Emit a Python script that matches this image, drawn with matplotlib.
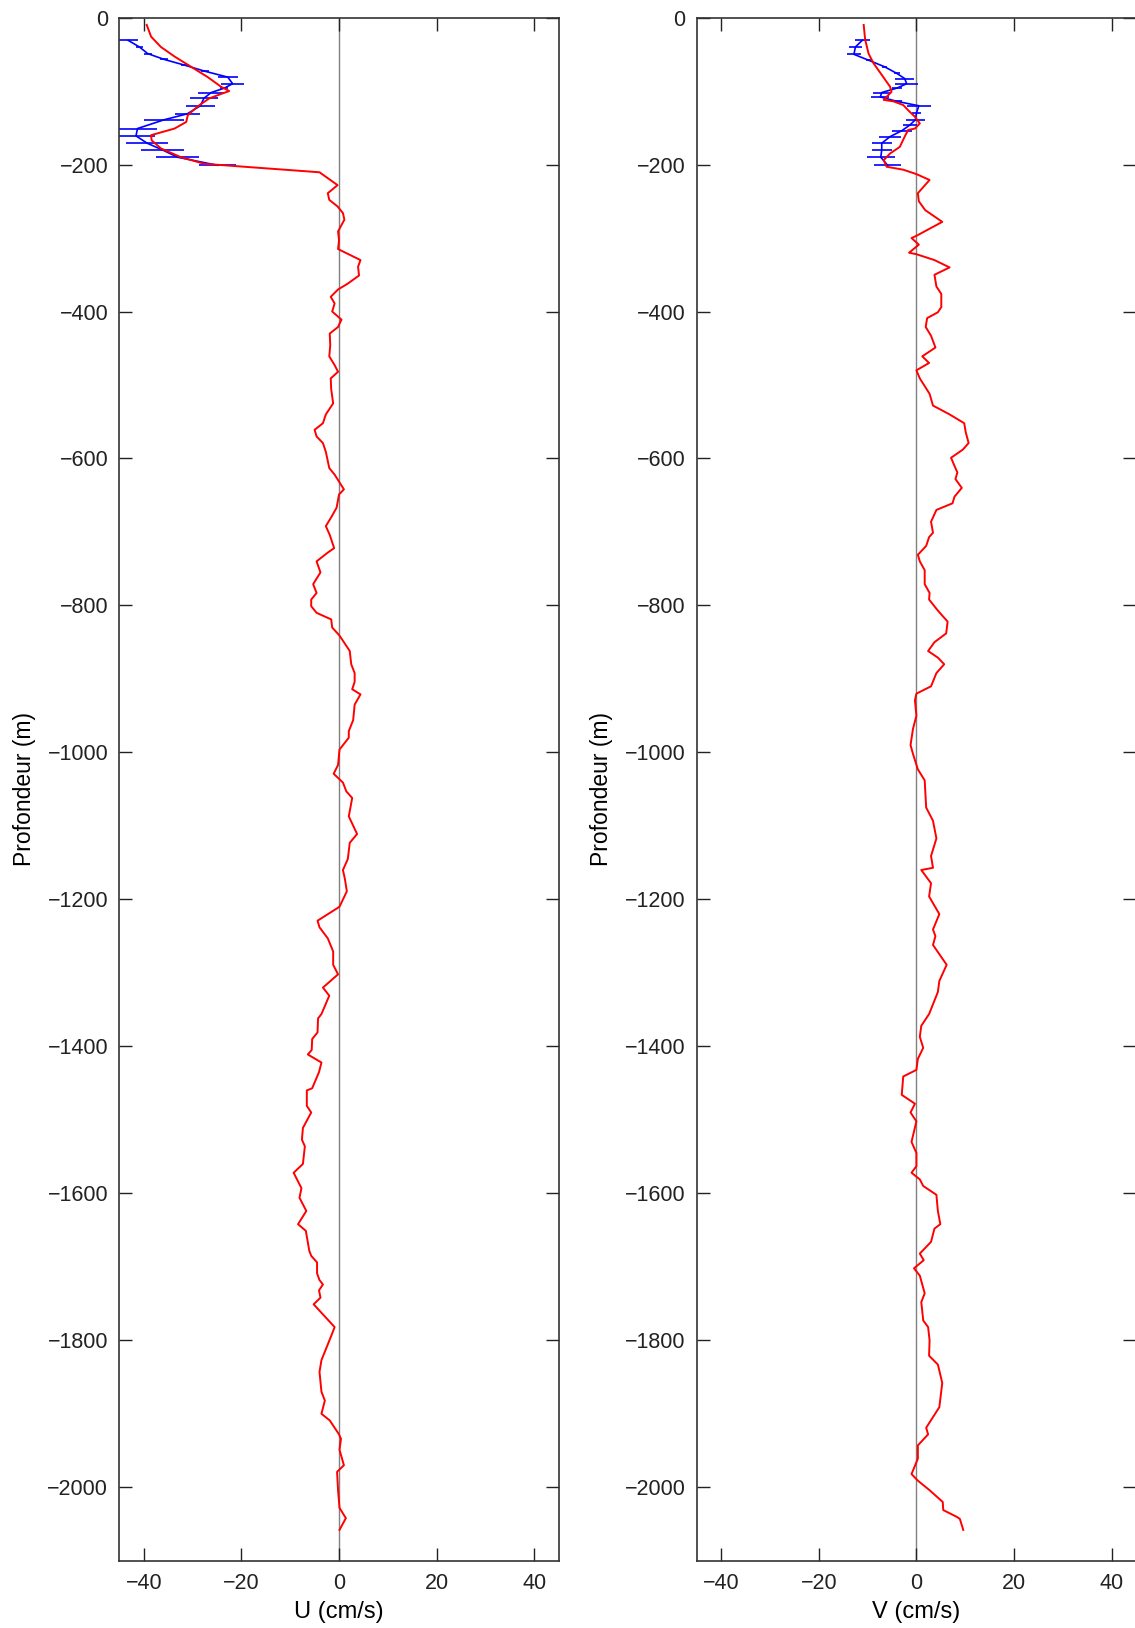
import matplotlib
matplotlib.use("Agg")
import matplotlib.pyplot as plt
import numpy as np

plt.rcParams['font.family'] = ['Liberation Sans', 'DejaVu Sans']

# red profiles (depth in m, velocity in cm/s)
z_u = [-10, -26, -40, -53, -67, -81, -94, -100, -104, -110, -121, -133, -142, -151, -160, -167,
       -178, -190, -199, -210.5, -228, -239, -248, -257, -266, -275,
       -291, -303, -315, -330, -339, -351, -362, -370, -380, -389, -400, -411, -421, -430, -446,
       -461, -473, -482, -491, -506, -525, -540, -552, -561, -570, -579, -591, -613, -622, -642,
       -649, -667, -680, -692, -704, -722, -728, -740, -755, -771, -783, -792, -801, -810, -819,
       -830, -841, -862, -880, -892, -904, -914, -921, -935, -956, -971, -980, -996, -1017, -1029,
       -1041, -1053, -1062, -1087, -1111, -1123, -1145, -1160, -1172, -1189, -1210, -1229, -1238,
       -1253, -1271, -1289, -1302, -1320, -1331, -1356, -1362, -1381, -1390, -1405, -1411, -1422,
       -1435, -1457, -1460, -1481, -1490, -1511, -1527, -1536, -1560, -1572, -1593, -1606, -1624,
       -1642, -1651, -1678, -1685, -1694, -1709, -1718, -1724, -1732, -1742, -1751, -1782, -1794,
       -1827, -1843, -1870, -1882, -1900, -1909, -1928, -1934, -1949, -1970, -1979, -2004, -2028,
       -2042, -2058]
u = [-39.4, -38.5, -36.5, -33.7, -30.3, -26.9, -24.2, -22.5, -24.2, -26.6, -29.0, -31.0, -31.3,
     -33.7, -38.5, -38.4, -36.5, -32.4, -27.6, -4.0, -0.3, -2.3, -2.0, -0.3, 0.8, 1.1,
     -0.2, 0.0, -0.2, 4.4, 3.9, 4.1, 1.8, -0.2, -1.7, -0.9, -1.4, 0.5, -0.2, -1.9, -1.8,
     -2.0, -0.9, -0.2, -1.7, -1.6, -1.2, -2.7, -3.3, -5.0, -4.6, -3.3, -2.7, -2.0, -0.9, 1.0,
     0.0, -0.5, -1.6, -2.7, -1.9, -1.0, -2.3, -4.6, -3.8, -5.3, -4.6, -5.7, -5.7, -4.6, -1.6,
     -1.4, 0.1, 2.2, 2.5, 3.2, 3.2, 2.7, 4.4, 3.2, 2.9, 2.0, 2.0, 0.1, -0.2, -1.1,
     0.8, 1.5, 2.7, 2.0, 3.7, 2.2, 1.8, 0.8, 1.2, 1.6, 0.1, -4.4, -4.0,
     -2.3, -1.2, -1.2, -0.2, -3.3, -2.0, -3.6, -4.3, -4.4, -5.5, -5.6, -6.4, -3.6,
     -4.1, -5.5, -6.6, -6.6, -5.7, -7.4, -7.6, -7.0, -7.4, -9.3, -7.7, -8.1, -6.7,
     -8.4, -6.8, -6.1, -5.7, -4.5, -4.5, -4.0, -3.3, -4.1, -3.8, -5.2, -0.9, -1.6,
     -3.6, -4.0, -3.6, -2.9, -3.6, -1.9, 0.0, 0.4, 0.1, 1.0, -0.4, -0.2, 0.1,
     1.4, 0.1]

z_v = [-10, -30, -49, -62, -78, -94, -101, -108, -112, -114, -119, -126, -135, -144, -151, -153,
       -162, -176, -185, -194, -203, -207, -213, -221, -239, -250, -262, -278, -297, -300, -309,
       -320, -322, -330, -340, -350, -366, -376, -394, -401, -409, -421, -433, -449, -461, -470,
       -480, -491, -512, -528, -540, -552, -564, -579, -588, -599, -610, -619, -628, -640, -652,
       -661, -670, -686, -701, -707, -719, -731, -740, -752, -771, -783, -792, -807, -822, -838,
       -850, -862, -871, -880, -892, -910, -920, -929, -950, -968, -990, -1002, -1023, -1038,
       -1075, -1093, -1117, -1141, -1157, -1160, -1178, -1196, -1220, -1241, -1250, -1262, -1289,
       -1311, -1326, -1356, -1372, -1387, -1402, -1417, -1432, -1441, -1466, -1478, -1490, -1502,
       -1530, -1545, -1563, -1572, -1581, -1590, -1602, -1624, -1642, -1648, -1666, -1682, -1691,
       -1702, -1712, -1736, -1748, -1773, -1782, -1800, -1821, -1833, -1858, -1891, -1919, -1928,
       -1943, -1961, -1982, -1991, -2004, -2020, -2031, -2040, -2043, -2058]
v = [-10.8, -10.5, -9.8, -8.8, -7.1, -5.4, -5.1, -6.1, -6.7, -4.7, -2.7, -1.7, -0.3, 0.7, -0.3, -1.7,
     -2.4, -3.4, -5.4, -6.7, -6.1, -2.7, 0.0, 2.7, 0.3, 0.5, 1.8, 5.3, 0.0, -1.0, 0.5,
     -1.5, 0.0, 3.7, 6.8, 3.7, 4.1, 5.1, 5.1, 4.4, 2.2, 1.9, 3.0, 3.9, 1.2, 2.6,
     0.0, 0.7, 2.7, 3.4, 6.8, 9.8, 10.1, 10.7, 9.5, 7.1, 7.8, 8.4, 8.0, 9.3, 7.8,
     7.4, 4.1, 3.0, 3.4, 2.6, 2.0, 0.3, 0.7, 1.7, 1.7, 2.7, 2.6, 4.4, 6.4, 6.1,
     3.7, 2.4, 4.4, 5.7, 4.1, 3.0, 0.0, -0.3, 0.0, -0.7, -1.2, -0.7, 0.3, 1.7,
     2.0, 3.4, 4.1, 3.0, 3.4, 1.0, 3.0, 2.6, 4.7, 3.4, 3.9, 3.4, 6.2,
     4.7, 4.4, 2.6, 1.0, 0.7, 1.4, 0.3, 0.0, -2.7, -3.0, -0.3, -1.2, 0.0,
     -1.0, 0.0, 0.0, -1.0, 0.7, 1.4, 4.1, 4.4, 4.9, 3.7, 3.0, 0.7, 1.5,
     -0.5, 0.7, 1.7, 1.0, 1.4, 2.4, 2.7, 2.6, 4.4, 5.3, 4.7, 2.0, 2.4,
     0.3, 0.3, -1.0, 0.3, 2.7, 5.4, 5.5, 8.2, 8.9, 9.6]

# blue profiles with error bars (upper 200 m)
zb_u = [-31, -40, -49, -57, -65, -73, -81, -90, -96, -102, -110, -120, -131, -139, -151, -161,
        -171, -180, -190, -201]
ub = [-43.2, -40.9, -39.2, -35.8, -31.5, -27.5, -22.8, -21.8, -23.5, -26.2, -27.7, -28.4, -31.1,
      -35.8, -41.3, -41.6, -39.3, -36.2, -33.1, -24.9]
eb_u = [2.0, 0.8, 0.8, 0.8, 0.8, 0.8, 2.0, 2.4, 0.8, 2.7, 2.9, 2.9, 2.6, 4.1, 4.1, 3.8, 4.3, 4.4,
        4.4, 3.8]

zb_v = [-31, -40, -50, -58, -67, -76, -83, -90, -96, -102, -108, -114, -120, -130, -139, -146,
        -154, -162, -171, -180, -190, -201]
vb = [-11.1, -12.5, -12.8, -9.8, -6.5, -4.0, -2.4, -2.0, -4.0, -7.1, -7.4, -4.0, 0.5, 0.0, -0.2,
      -1.3, -3.0, -5.4, -7.1, -7.1, -7.3, -5.9]
eb_v = [1.5, 1.3, 1.4, 0.5, 0.5, 0.6, 2.0, 2.4, 1.0, 1.8, 1.8, 1.0, 2.5, 1.0, 2.0, 1.5, 2.0, 2.2,
        2.0, 2.0, 2.9, 2.7]

xticks = [-40, -20, 0, 20, 40]
yticks = np.arange(-2000, 1, 200)

fig = plt.figure(figsize=(11.35, 16.28), dpi=100)
ax1 = fig.add_axes([0.1052, 0.0413, 0.387, 0.9479])
ax2 = fig.add_axes([0.6139, 0.0413, 0.387, 0.9479])

panels = [(ax1, u, z_u, ub, zb_u, eb_u, 'U (cm/s)'),
          (ax2, v, z_v, vb, zb_v, eb_v, 'V (cm/s)')]

for ax, vel, z, velb, zb, eb, xlab in panels:
    ax.axvline(0, color='#808080', lw=1.0, zorder=1)
    ax.errorbar(velb, zb, xerr=eb, color='#0000ff', lw=1.2, elinewidth=1.2,
                capsize=0, zorder=2)
    ax.plot(vel, z, color='#ff0000', lw=1.4, zorder=3)
    ax.set_xlim(-45, 45)
    ax.set_ylim(-2100, 0)
    ax.set_xticks(xticks)
    ax.set_yticks(yticks)
    ax.set_xticklabels([str(t).replace('-', '\u2212') for t in xticks])
    ax.set_yticklabels([str(t).replace('-', '\u2212') for t in yticks])
    ax.tick_params(direction='in', length=9.5, width=1.0, top=True, right=True,
                   labelsize=15.5, colors='#222222')
    ax.tick_params(axis='y', pad=8)
    ax.tick_params(axis='x', pad=9)
    for s in ax.spines.values():
        s.set_linewidth(1.2)
        s.set_color('#333333')
    ax.set_xlabel(xlab, fontsize=17)
    ax.set_ylabel('Profondeur (m)', fontsize=16.5)
    ax.xaxis.set_label_coords(0.5, -0.026)
    ax.yaxis.set_label_coords(-0.19, 0.5)

fig.savefig('out.png', dpi=100)
